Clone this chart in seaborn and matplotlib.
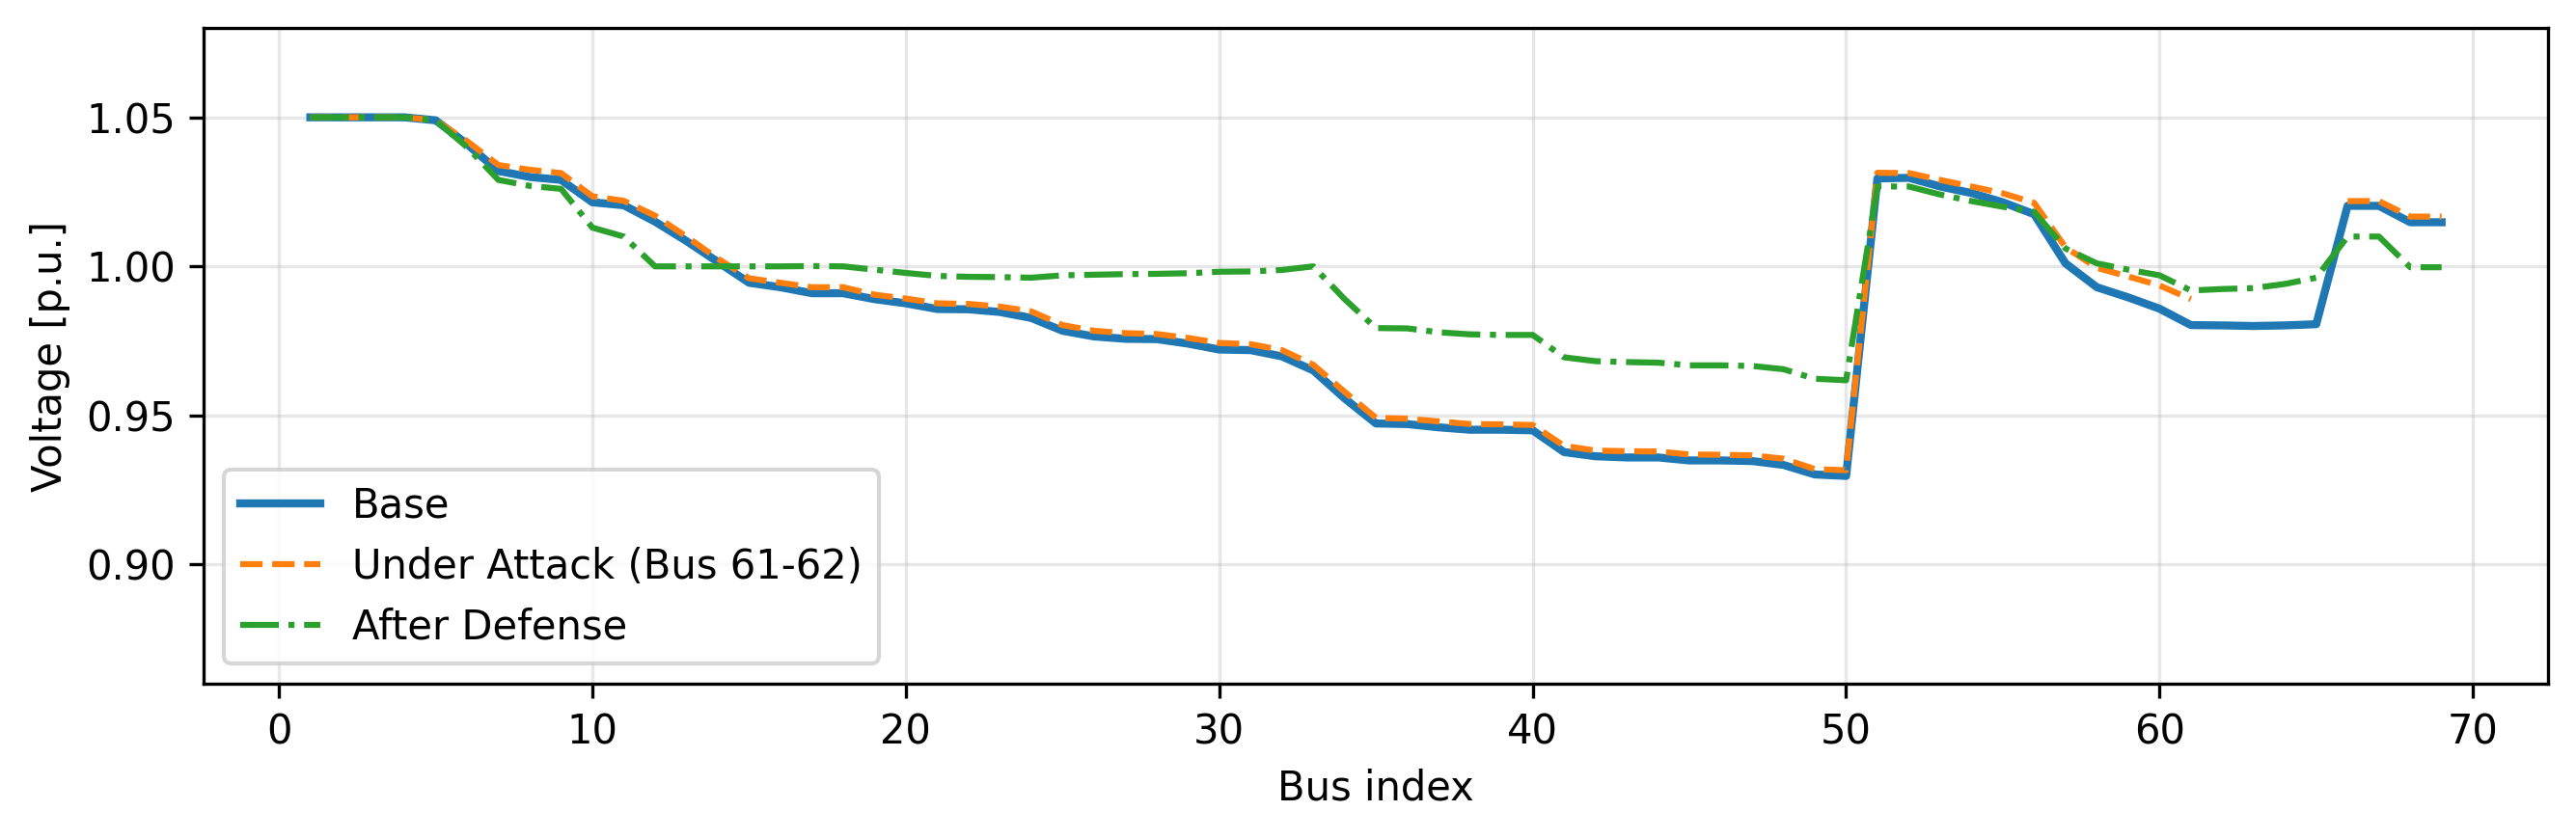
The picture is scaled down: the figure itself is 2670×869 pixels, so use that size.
import numpy as np
import pandas as pd
import matplotlib
matplotlib.use("Agg")
import matplotlib.pyplot as plt
import seaborn as sns

# bus voltages (p.u.), buses 1..69
bus = list(range(1, 70))

v_base = [
    1.050, 1.050, 1.050, 1.050, 1.049, 1.041, 1.032, 1.030, 1.029, 1.0215,
    1.0205, 1.015, 1.0085, 1.0015, 0.9945, 0.993, 0.991, 0.991, 0.989, 0.9876,
    0.9857, 0.9856, 0.9847, 0.9827, 0.9784, 0.9765, 0.9757, 0.9756, 0.9741, 0.9721,
    0.9719, 0.9698, 0.9651, 0.9557, 0.9473, 0.9471, 0.946, 0.9452, 0.9452, 0.945,
    0.9377, 0.9363, 0.9359, 0.9359, 0.9349, 0.9349, 0.9347, 0.9334, 0.9302, 0.9297,
    1.0295, 1.0297, 1.0268, 1.0246, 1.0215, 1.0175, 1.001, 0.993, 0.9896, 0.9858,
    0.9803, 0.9802, 0.980, 0.9802, 0.9806, 1.0203, 1.0203, 1.0148, 1.0148,
]

v_attack = [
    1.050, 1.050, 1.050, 1.050, 1.049, 1.042, 1.034, 1.0324, 1.0313, 1.0235,
    1.022, 1.017, 1.010, 1.0026, 0.996, 0.9945, 0.993, 0.993, 0.9905, 0.9892,
    0.9876, 0.9874, 0.9865, 0.9849, 0.9803, 0.9784, 0.9776, 0.9773, 0.976, 0.9743,
    0.9739, 0.9719, 0.967, 0.9579, 0.9492, 0.9489, 0.948, 0.9471, 0.947, 0.9468,
    0.9398, 0.9382, 0.938, 0.9379, 0.9369, 0.9368, 0.9366, 0.9355, 0.932, 0.9316,
    1.0314, 1.0313, 1.029, 1.0268, 1.0245, 1.0213, 1.0064, 0.9995, 0.9966, 0.9936,
    0.989, np.nan, np.nan, np.nan, np.nan, 1.0219, 1.0219, 1.0167, 1.0167,
]

v_defense = [
    1.050, 1.050, 1.050, 1.050, 1.049, 1.040, 1.029, 1.027, 1.026, 1.013,
    1.010, 1.000, 1.000, 1.000, 1.000, 1.000, 1.0001, 1.000, 0.9989, 0.9978,
    0.9968, 0.9965, 0.9964, 0.9962, 0.997, 0.9972, 0.9974, 0.9975, 0.9977, 0.9982,
    0.9983, 0.9988, 1.000, 0.989, 0.9793, 0.9792, 0.9779, 0.9772, 0.977, 0.977,
    0.9695, 0.9682, 0.9679, 0.9677, 0.9668, 0.9668, 0.9666, 0.9655, 0.9623, 0.9618,
    1.0268, 1.0268, 1.0241, 1.0219, 1.020, 1.0183, 1.006, 1.001, 0.9989, 0.997,
    0.9919, 0.9924, 0.9927, 0.9941, 0.9962, 1.010, 1.010, 0.9997, 0.9997,
]

y_ticks = [0.90, 0.95, 1.00, 1.05]

# attack series has a gap (buses 62-65) -> split into segments
df_att = pd.DataFrame({"bus": bus, "v": v_attack})
df_att["seg"] = df_att["v"].isna().cumsum()
df_att = df_att.dropna()

fig = plt.figure(figsize=(8.9, 2.897), dpi=300)
ax = fig.add_axes([0.0791, 0.1841, 0.9101, 0.7825])

sns.lineplot(x=bus, y=v_base, ax=ax, color="#1f77b4", lw=2, label="Base")
sns.lineplot(data=df_att, x="bus", y="v", units="seg", estimator=None, ax=ax,
             color="#ff7f0e", lw=1.5, linestyle="--",
             label="Under Attack (Bus 61-62)")
sns.lineplot(x=bus, y=v_defense, ax=ax, color="#2ca02c", lw=1.5, linestyle="-.",
             label="After Defense")

ax.set_ylim(0.86, 1.08)
ax.set_yticks(y_ticks)
ax.set_xlabel("Bus index")
ax.set_ylabel("Voltage [p.u.]")
ax.grid(True, alpha=0.3)

# one legend entry per series
handles, labels = ax.get_legend_handles_labels()
uniq = dict(zip(labels, handles))
order = ["Base", "Under Attack (Bus 61-62)", "After Defense"]
ax.legend([uniq[k] for k in order], order, loc="lower left")

fig.savefig("out.png", dpi=300)
